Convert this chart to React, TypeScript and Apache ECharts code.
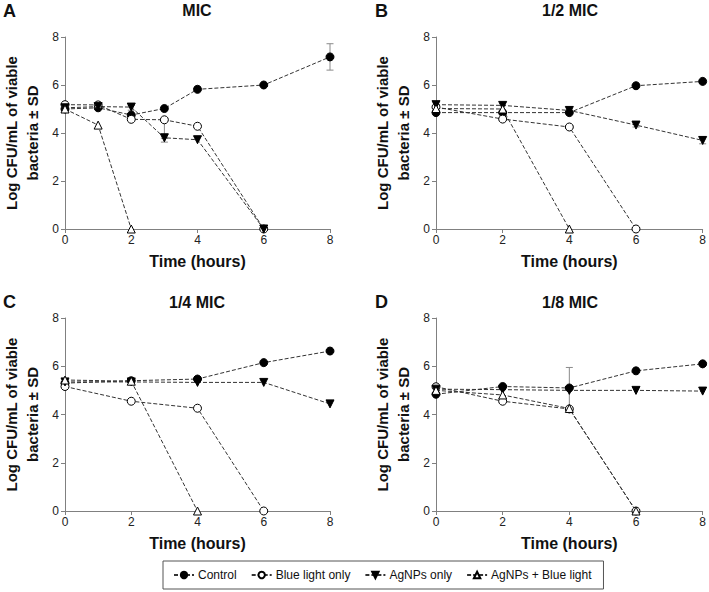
import React, { useEffect, useRef } from "react";
import * as echarts from "echarts";

// ---- Data ----
const seriesNames = ["Control", "Blue light only", "AgNPs only", "AgNPs + Blue light"];
const panelTitles = ["MIC", "1/2 MIC", "1/4 MIC", "1/8 MIC"];
const panelLetters = ["A", "B", "C", "D"];
const xTicks = [0, 2, 4, 6, 8];

// Panel A (MIC)
const aControlT = [0, 1, 2, 3, 4, 6, 8];
const aControl = [5.0, 5.05, 4.75, 5.02, 5.82, 6.0, 7.17];
const aBlueT = [0, 1, 2, 3, 4, 6];
const aBlue = [5.18, 5.17, 4.57, 4.55, 4.28, 0];
const aAgT = [0, 1, 2, 3, 4, 6];
const aAg = [5.05, 5.1, 5.08, 3.8, 3.72, 0];
const aAgBlueT = [0, 1, 2];
const aAgBlue = [5.0, 4.33, 0];
const aErr = [
  [8, 6.62, 7.72],
  [3, 3.78, 4.55],
  [3, 3.62, 3.95],
  [2, 4.95, 5.15],
  [4, 5.72, 5.92],
];

// Panel B (1/2 MIC)
const bControlT = [0, 2, 4, 6, 8];
const bControl = [4.85, 4.85, 4.85, 5.97, 6.15];
const bBlueT = [0, 2, 4, 6];
const bBlue = [5.08, 4.58, 4.25, 0];
const bAgT = [0, 2, 4, 6, 8];
const bAg = [5.18, 5.15, 4.94, 4.33, 3.69];
const bAgBlueT = [0, 2, 4];
const bAgBlue = [5.02, 5.0, 0];
const bErr = [
  [8, 3.55, 3.85],
  [6, 4.25, 4.42],
];

// Panel C (1/4 MIC)
const cControlT = [0, 2, 4, 6, 8];
const cControl = [5.3, 5.4, 5.47, 6.15, 6.63];
const cBlueT = [0, 2, 4, 6];
const cBlue = [5.16, 4.55, 4.26, 0];
const cAgT = [0, 2, 4, 6, 8];
const cAg = [5.35, 5.35, 5.33, 5.33, 4.44];
const cAgBlueT = [0, 2, 4];
const cAgBlue = [5.43, 5.38, 0];
const cErr: number[][] = [];

// Panel D (1/8 MIC)
const dControlT = [0, 2, 4, 6, 8];
const dControl = [4.84, 5.16, 5.1, 5.81, 6.1];
const dBlueT = [0, 2, 4, 6];
const dBlue = [5.15, 4.55, 4.23, 0];
const dAgT = [0, 2, 4, 6, 8];
const dAg = [5.05, 5.03, 5.0, 5.0, 4.97];
const dAgBlueT = [0, 2, 4, 6];
const dAgBlue = [5.0, 4.81, 4.25, 0];
const dErr = [[4, 4.25, 5.95]];

const panels = [
  { t: [aControlT, aBlueT, aAgT, aAgBlueT], v: [aControl, aBlue, aAg, aAgBlue], err: aErr },
  { t: [bControlT, bBlueT, bAgT, bAgBlueT], v: [bControl, bBlue, bAg, bAgBlue], err: bErr },
  { t: [cControlT, cBlueT, cAgT, cAgBlueT], v: [cControl, cBlue, cAg, cAgBlue], err: cErr },
  { t: [dControlT, dBlueT, dAgT, dAgBlueT], v: [dControl, dBlue, dAg, dAgBlue], err: dErr },
];

const FONT = "Liberation Sans, Arial, sans-serif";

const grids = [
  { left: 63, top: 37, width: 267, height: 192 },
  { left: 436, top: 37, width: 268, height: 192 },
  { left: 63, top: 318, width: 267, height: 193 },
  { left: 436, top: 318, width: 268, height: 193 },
];

const symbolStyles = [
  { symbol: "circle", size: 8, fill: "#000", rotate: 0 },
  { symbol: "circle", size: 8, fill: "#fff", rotate: 0 },
  { symbol: "triangle", size: 8, fill: "#000", rotate: 180 },
  { symbol: "triangle", size: 8, fill: "#fff", rotate: 0 },
];

export default function App() {
  const ref = useRef<HTMLDivElement>(null);
  useEffect(() => {
    if (!ref.current) return;
    const chart = echarts.init(ref.current, undefined, { renderer: "svg" });

    const xAxis = grids.map((_, i) => ({
      type: "value",
      gridIndex: i,
      min: 0,
      max: 8,
      interval: 2,
      name: "Time (hours)",
      nameLocation: "middle",
      nameGap: 24,
      nameTextStyle: { fontFamily: FONT, fontSize: 16, fontWeight: "bold", color: "#111" },
      axisLine: { show: true, lineStyle: { color: "#808080", width: 1 } },
      axisTick: { show: true, length: 4, lineStyle: { color: "#808080" } },
      axisLabel: { fontFamily: FONT, fontSize: 12, color: "#222", margin: 5 },
      splitLine: { show: false },
      data: xTicks,
    }));

    const yAxis = grids.map((_, i) => ({
      type: "value",
      gridIndex: i,
      min: 0,
      max: 8,
      interval: 2,
      name: "Log CFU/mL of viable\nbacteria ± SD",
      nameLocation: "middle",
      nameGap: 22,
      nameTextStyle: {
        fontFamily: FONT,
        fontSize: 15,
        fontWeight: "bold",
        color: "#111",
        lineHeight: 21,
      },
      axisLine: { show: true, lineStyle: { color: "#808080", width: 1 } },
      axisTick: { show: true, length: 4, lineStyle: { color: "#808080" } },
      axisLabel: { fontFamily: FONT, fontSize: 12, color: "#222", margin: 6 },
      splitLine: { show: false },
    }));

    const series: any[] = [];
    panels.forEach((p, gi) => {
      series.push({
        type: "custom",
        name: "err" + gi,
        xAxisIndex: gi,
        yAxisIndex: gi,
        z: 1,
        encode: { x: 0, y: [1, 2] },
        data: p.err,
        renderItem: (_params: any, api: any) => {
          const x = api.value(0);
          const lo = api.value(1);
          const hi = api.value(2);
          const a = api.coord([x, hi]);
          const b = api.coord([x, lo]);
          const w = 3.5;
          const st = { stroke: "#8a8a8a", lineWidth: 1 };
          return {
            type: "group",
            children: [
              { type: "line", shape: { x1: a[0], y1: a[1], x2: b[0], y2: b[1] }, style: st },
              { type: "line", shape: { x1: a[0] - w, y1: a[1], x2: a[0] + w, y2: a[1] }, style: st },
              { type: "line", shape: { x1: b[0] - w, y1: b[1], x2: b[0] + w, y2: b[1] }, style: st },
            ],
          };
        },
      });
      p.v.forEach((vals, si) => {
        const s = symbolStyles[si];
        series.push({
          type: "line",
          name: seriesNames[si],
          xAxisIndex: gi,
          yAxisIndex: gi,
          z: 3,
          data: vals.map((v, k) => [p.t[si][k], v]),
          symbol: s.symbol,
          symbolSize: s.size,
          symbolRotate: s.rotate,
          showAllSymbol: true,
          lineStyle: { color: "#333", width: 1, type: [4, 2] },
          itemStyle: { color: s.fill, borderColor: "#000", borderWidth: 1 },
        });
      });
    });

    const graphic: any[] = [];
    const letterPos = [
      [3, 2],
      [375, 2],
      [3, 293],
      [375, 293],
    ];
    const titlePos = [
      [197, 10],
      [570, 10],
      [197, 302],
      [570, 302],
    ];
    for (let i = 0; i < 4; i++) {
      graphic.push({
        type: "text",
        left: letterPos[i][0],
        top: letterPos[i][1],
        style: { text: panelLetters[i], font: "bold 18px " + FONT, fill: "#111" },
      });
      graphic.push({
        type: "text",
        x: titlePos[i][0],
        y: titlePos[i][1],
        style: {
          text: panelTitles[i],
          font: "bold 16px " + FONT,
          fill: "#111",
          align: "center",
          verticalAlign: "middle",
        },
      });
    }

    chart.setOption({
      animation: false,
      backgroundColor: "#fff",
      grid: grids,
      xAxis,
      yAxis,
      series,
      graphic,
      legend: {
        data: seriesNames,
        left: 163,
        top: 561,
        orient: "horizontal",
        padding: [8, 12, 8, 10],
        itemGap: 14,
        itemWidth: 20,
        itemHeight: 8,
        borderColor: "#555",
        borderWidth: 1,
        textStyle: { fontFamily: FONT, fontSize: 12, color: "#111", padding: [0, 0, 0, -1] },
      },
    });
    return () => chart.dispose();
  }, []);
  return (
    <div
      ref={ref}
      style={{ position: "fixed", left: 0, top: 0, width: 709, height: 592 }}
    />
  );
}
